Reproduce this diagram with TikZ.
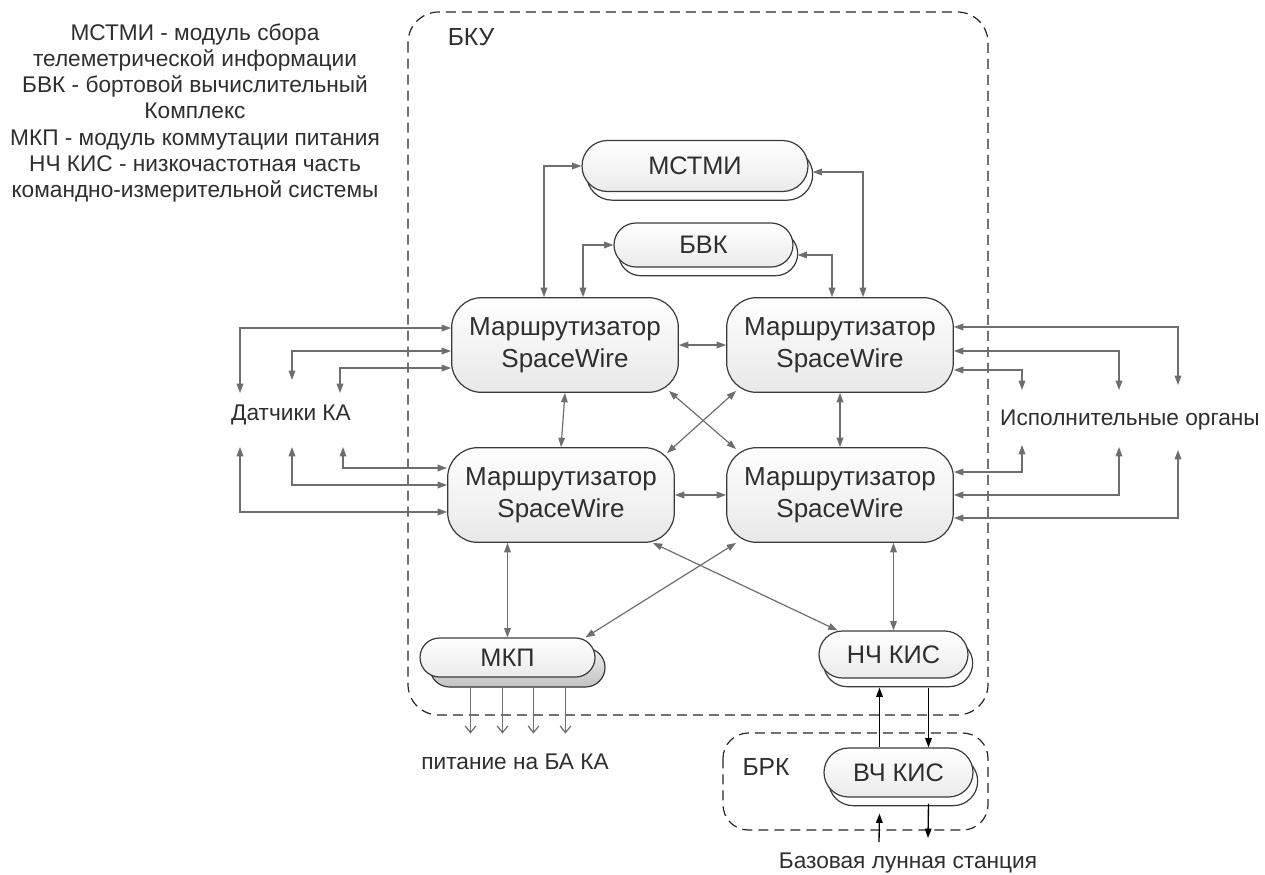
\documentclass[tikz,border=0pt]{standalone}
\usepackage{fontspec}
\setmainfont{Liberation Sans}
\usetikzlibrary{arrows.meta,positioning,shapes.misc,shadows,calc}
\definecolor{lkgray}{HTML}{6E6E6E}
\definecolor{bdgray}{HTML}{3A3A3A}
\definecolor{txgray}{HTML}{2E2E2E}

\begin{document}
\begin{tikzpicture}[x=0.75pt,y=-0.75pt,
  >={Triangle[length=7pt,width=5pt]},
  router/.style={rectangle,rounded corners=22.5pt,draw=bdgray,line width=0.9pt,
                 top color=white,bottom color=black!9,minimum width=170pt,
                 minimum height=71pt,inner sep=0pt,align=center,
                 font=\fontsize{19.5}{24}\selectfont,text=txgray},
  pill/.style={rounded rectangle,draw=bdgray,line width=0.9pt,
               top color=white,bottom color=black!8,inner sep=0pt,
               font=\fontsize{19}{23}\selectfont,text=txgray},
  wshadow/.style={copy shadow={shadow xshift=3.5pt,shadow yshift=-6.5pt,
                  draw=bdgray,fill=white,line width=0.9pt}},
  gshadow/.style={copy shadow={shadow xshift=7.5pt,shadow yshift=-7.5pt,
                  draw=bdgray,top color=black!6,bottom color=black!24,line width=0.9pt}},
  link/.style={draw=lkgray,line width=0.9pt,<->},
  sig/.style={draw=black,line width=1pt,->},
  power/.style={draw=lkgray,line width=0.9pt,-{Straight Barb[length=5pt,width=8pt]}},
  lbl/.style={font=\fontsize{17}{19.65}\selectfont,text=txgray,align=center,inner sep=0pt},
  frame/.style={draw=black!85,line width=0.9pt,dash pattern=on 7.5pt off 4.5pt}
]
\useasboundingbox (0,0) rectangle (1265,875);

% ---- Legend -------------------------------------------------
\node[lbl] (legend) at (195,113) {МСТМИ - модуль сбора\\телеметрической информации\\БВК - бортовой вычислительный\\Комплекс\\МКП - модуль коммутации питания\\НЧ КИС - низкочастотная часть\\командно-измерительной системы};

% ---- Frames -------------------------------------------------
\draw[frame,rounded corners=23pt] (408,12) rectangle (988,715);
\node[lbl,font=\fontsize{18.5}{22}\selectfont] (bku) at (471,37) {БКУ};
\draw[frame,rounded corners=19pt] (723,733) rectangle (988,830);
\node[lbl,font=\fontsize{18.5}{22}\selectfont] (brk) at (766,767) {БРК};

% ---- Modules ------------------------------------------------
\node[pill,wshadow,minimum width=169.5pt,minimum height=38.25pt] (mstmi) at (695,166) {МСТМИ};
\node[pill,wshadow,minimum width=134.25pt,minimum height=33pt] (bvk) at (703.5,245) {БВК};
\node[pill,gshadow,minimum width=131.25pt,minimum height=29.25pt] (mkp) at (507.5,657.5) {МКП};
\node[pill,wshadow,minimum width=111.75pt,minimum height=35.25pt] (nch) at (893.5,654.5) {НЧ КИС};
\node[pill,wshadow,minimum width=111.75pt,minimum height=36.75pt] (vch) at (898.5,772.5) {ВЧ КИС};

% ---- Routers ------------------------------------------------
\node[router] (r1) at (565,345) {Маршрутизатор\\SpaceWire};
\node[router] (r2) at (840,345) {Маршрутизатор\\SpaceWire};
\node[router] (r3) at (561,495) {Маршрутизатор\\SpaceWire};
\node[router] (r4) at (840,495) {Маршрутизатор\\SpaceWire};

% ---- Links inside BKU ---------------------------------------
\draw[link] (mstmi.west) -| ($(r1.north)+(-21,0)$);
\draw[link] (bvk.west) -| ($(r1.north)+(18,0)$);
\draw[link] ($(mstmi.east)+(4,6)$) -| ($(r2.north)+(23,0)$);
\draw[link] ($(bvk.east)+(4,10)$) -| ($(r2.north)+(-8,0)$);
\draw[link] (r1.east) -- (r2.west);
\draw[link] (r3.east) -- (r4.west);
\draw[link] (r1.south) -- (r3.north);
\draw[link] (r2.south) -- (r4.north);
\draw[link] ($(r1.south east)+(-10,-2)$) -- ($(r4.north west)+(10,2)$);
\draw[link] ($(r3.north east)+(-8,6)$) -- ($(r2.south west)+(10,-2)$);
\draw[link] (mkp.north |- r3.south) -- (mkp.north);
\draw[link] (nch.north |- r4.south) -- (nch.north);
\draw[link] ($(r4.south west)+(10,0)$) -- ($(mkp.north)+(78,0)$);
\draw[link] ($(r3.south east)+(-22,0)$) -- ($(nch.north)+(-56,0)$);

% ---- Sensors ------------------------------------------------
\coordinate (ds1) at (240,393);
\coordinate (ds2) at (292,380);
\coordinate (ds3) at (340,393);
\coordinate (ds4) at (240,447);
\coordinate (ds5) at (292,447);
\coordinate (ds6) at (343,447);
\draw[link] (ds1) |- ($(r1.west)+(0,-17)$);
\draw[link] (ds2) |- ($(r1.west)+(0,6)$);
\draw[link] (ds3) |- ($(r1.west)+(0,23)$);
\draw[link] (ds4) |- ($(r3.west)+(0,17)$);
\draw[link] (ds5) |- ($(r3.west)+(0,-10)$);
\draw[link] (ds6) |- ($(r3.west)+(0,-27)$);
\node[lbl] (sens) at (291,415) {Датчики КА};

% ---- Actuators ----------------------------------------------
\coordinate (da1) at (1178,385);
\coordinate (da2) at (1119,390);
\coordinate (da3) at (1022,390);
\coordinate (da4) at (1022,445);
\coordinate (da5) at (1119,447);
\coordinate (da6) at (1178,450);
\draw[link] (da1) |- ($(r2.east)+(0,-18)$);
\draw[link] (da2) |- ($(r2.east)+(0,6)$);
\draw[link] (da3) |- ($(r2.east)+(0,25)$);
\draw[link] (da4) |- ($(r4.east)+(0,-23)$);
\draw[link] (da5) |- ($(r4.east)+(0,0)$);
\draw[link] (da6) |- ($(r4.east)+(0,23)$);
\node[lbl] (act) at (1130,420) {Исполнительные органы};

% ---- Power outputs ------------------------------------------
\foreach \dx in {-37,-5,26,58}
  \draw[power] ($(mkp.south)+(\dx,10)$) -- ++(0,46);
\node[lbl] (pwr) at (515,762) {питание на БА КА};

% ---- Radio link ---------------------------------------------
\draw[sig] ($(vch.north)+(-19,0)$) -- ($(nch.south)+(-14,9)$);
\draw[sig] ($(nch.south)+(35,9)$) -- ($(vch.north)+(30,0)$);
\coordinate (st1) at (879,842);
\coordinate (st2) at (928,838);
\draw[sig] (st1) -- ($(vch.south)+(-19,16)$);
\draw[sig] ($(vch.south)+(30,6)$) -- (st2);
\node[lbl] (base) at (908,863) {Базовая лунная станция};

\end{tikzpicture}
\end{document}
